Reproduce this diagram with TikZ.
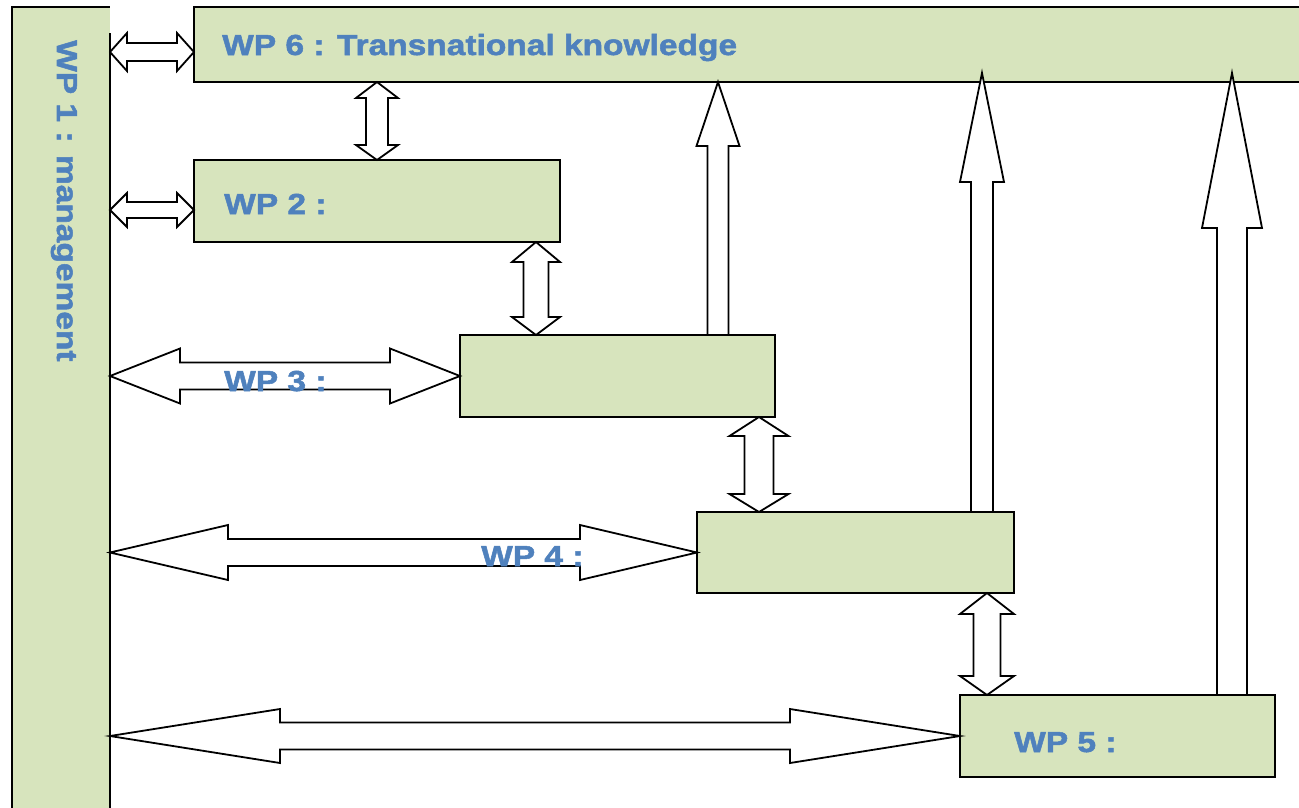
\documentclass[tikz,border=0pt]{standalone}
\usepackage{fontspec}
\newfontfamily\wpfont{Liberation Sans}[FakeStretch=1.155, BoldFeatures={FakeBold=1.8}]
\usetikzlibrary{calc}
\definecolor{boxgreen}{HTML}{D7E4BD}
\definecolor{wpblue}{HTML}{4F81BD}
% horizontal double block arrow: #1 left tip, #2 right tip, #3 shaft half, #4 head half, #5 left head len, #6 right head len
\newcommand\hdarrow[6]{\draw[blockarrow] (#1) -- ($(#1)+(#5,-#4)$) -- ($(#1)+(#5,-#3)$) -- ($(#2)+(-#6,-#3)$) -- ($(#2)+(-#6,-#4)$) -- (#2) -- ($(#2)+(-#6,#4)$) -- ($(#2)+(-#6,#3)$) -- ($(#1)+(#5,#3)$) -- ($(#1)+(#5,#4)$) -- cycle;}
% vertical double block arrow: #1 top tip, #2 bottom tip, #3 shaft half, #4 head half, #5 top head len, #6 bottom head len
\newcommand\vdarrow[6]{\draw[blockarrow] (#1) -- ($(#1)+(#4,#5)$) -- ($(#1)+(#3,#5)$) -- ($(#2)+(#3,-#6)$) -- ($(#2)+(#4,-#6)$) -- (#2) -- ($(#2)+(-#4,-#6)$) -- ($(#2)+(-#3,-#6)$) -- ($(#1)+(-#3,#5)$) -- ($(#1)+(-#4,#5)$) -- cycle;}
% single up block arrow: #1 base centre, #2 tip, #3 shaft half, #4 head half, #5 head len
\newcommand\uparrowblk[5]{\draw[blockarrow] ($(#1)+(-#3,0)$) -- ($(#2)+(-#3,#5)$) -- ($(#2)+(-#4,#5)$) -- (#2) -- ($(#2)+(#4,#5)$) -- ($(#2)+(#3,#5)$) -- ($(#1)+(#3,0)$) -- cycle;}
\begin{document}
\begin{tikzpicture}[x=1pt,y=-1pt,
  wpbox/.style={fill=boxgreen,draw=black,line width=1.8pt,inner sep=0pt,outer sep=0pt},
  blockarrow/.style={fill=white,draw=black,line width=1.8pt,line join=miter},
  lbl/.style={font=\wpfont\bfseries\fontsize{29}{30}\selectfont,text=wpblue,inner sep=0pt,anchor=base west}]
\useasboundingbox (0,0) rectangle (1299,807);
\clip (0,0) rectangle (1299,807);
% boxes
\node[fill=boxgreen,inner sep=0pt,outer sep=0pt,minimum width=98pt,minimum height=900pt] (wp1) at (61,457) {};
\draw[line width=1.8pt] (wp1.south west) -- (wp1.north west) -- (wp1.north east);
\draw[line width=1.8pt] ($(wp1.north east)+(0,26)$) -- (wp1.south east);
\node[wpbox,minimum width=1126pt,minimum height=75pt] (wp6) at (757,44.5) {};
\node[wpbox,minimum width=366pt,minimum height=82pt] (wp2) at (377,201) {};
\node[wpbox,minimum width=315pt,minimum height=82pt] (wp3) at (617.5,376) {};
\node[wpbox,minimum width=317pt,minimum height=81pt] (wp4) at (855.5,552.5) {};
\node[wpbox,minimum width=315pt,minimum height=82pt] (wp5) at (1117.5,736) {};
% connector end points
\coordinate (a1l) at ($(wp1.north east)+(0,45)$);
\coordinate (a1r) at ($(wp6.north west)+(0,45)$);
\coordinate (a2l) at ($(wp1.north east)+(0,203)$);
\coordinate (a2r) at ($(wp2.north west)+(0,50)$);
\coordinate (a3l) at (wp1.east |- wp3.west);
\coordinate (a4l) at (wp1.east |- wp4.west);
\coordinate (a5l) at (wp1.east |- wp5.west);
\coordinate (v1b) at (wp2.north);
\coordinate (v1t) at (wp6.south -| wp2.north);
\coordinate (v2b) at ($(wp3.north west)+(76,0)$);
\coordinate (v2t) at (wp2.south -| v2b);
\coordinate (v3b) at ($(wp4.north west)+(62,0)$);
\coordinate (v3t) at (wp3.south -| v3b);
\coordinate (v4b) at ($(wp5.north west)+(27,0)$);
\coordinate (v4t) at (wp4.south -| v4b);
\coordinate (u1b) at ($(wp3.north west)+(258,0)$);
\coordinate (u1t) at (wp6.south -| u1b);
\coordinate (u2b) at ($(wp4.north west)+(285,0)$);
\coordinate (u2t) at ($(wp6.south -| u2b)+(0,-9)$);
\coordinate (u3b) at ($(wp5.north west)+(272,0)$);
\coordinate (u3t) at ($(wp6.south -| u3b)+(0,-9)$);
% horizontal double arrows
\hdarrow{a1l}{a1r}{9}{19}{17}{17}
\hdarrow{a2l}{a2r}{8}{17}{17}{17}
\hdarrow{a3l}{wp3.west}{13.5}{27.5}{70}{70}
\hdarrow{a4l}{wp4.west}{13.5}{27.5}{118}{117}
\hdarrow{a5l}{wp5.west}{13.5}{27}{170}{170}
% vertical double arrows
\vdarrow{v1t}{v1b}{11}{21}{16}{15}
\vdarrow{v2t}{v2b}{12.5}{24}{20}{18}
\vdarrow{v3t}{v3b}{14.5}{29.5}{19}{18}
\vdarrow{v4t}{v4b}{13.5}{27}{21}{19}
% single up arrows
\uparrowblk{u1b}{u1t}{10.5}{21.5}{64}
\uparrowblk{u2b}{u2t}{11}{22}{109}
\uparrowblk{u3b}{u3t}{15}{30}{155}
% labels
\node[lbl,rotate=-90] (l1) at (57,40) {WP 1 : management};
\node[lbl] (l6) at (222,55) {WP 6 : Transnational knowledge};
\node[lbl] (l2) at (224,214) {WP 2 :};
\node[lbl] (l3) at (224,391) {WP 3 :};
\node[lbl] (l4) at (481,566) {WP 4 :};
\node[lbl] (l5) at (1014,752) {WP 5 :};
\end{tikzpicture}
\end{document}
